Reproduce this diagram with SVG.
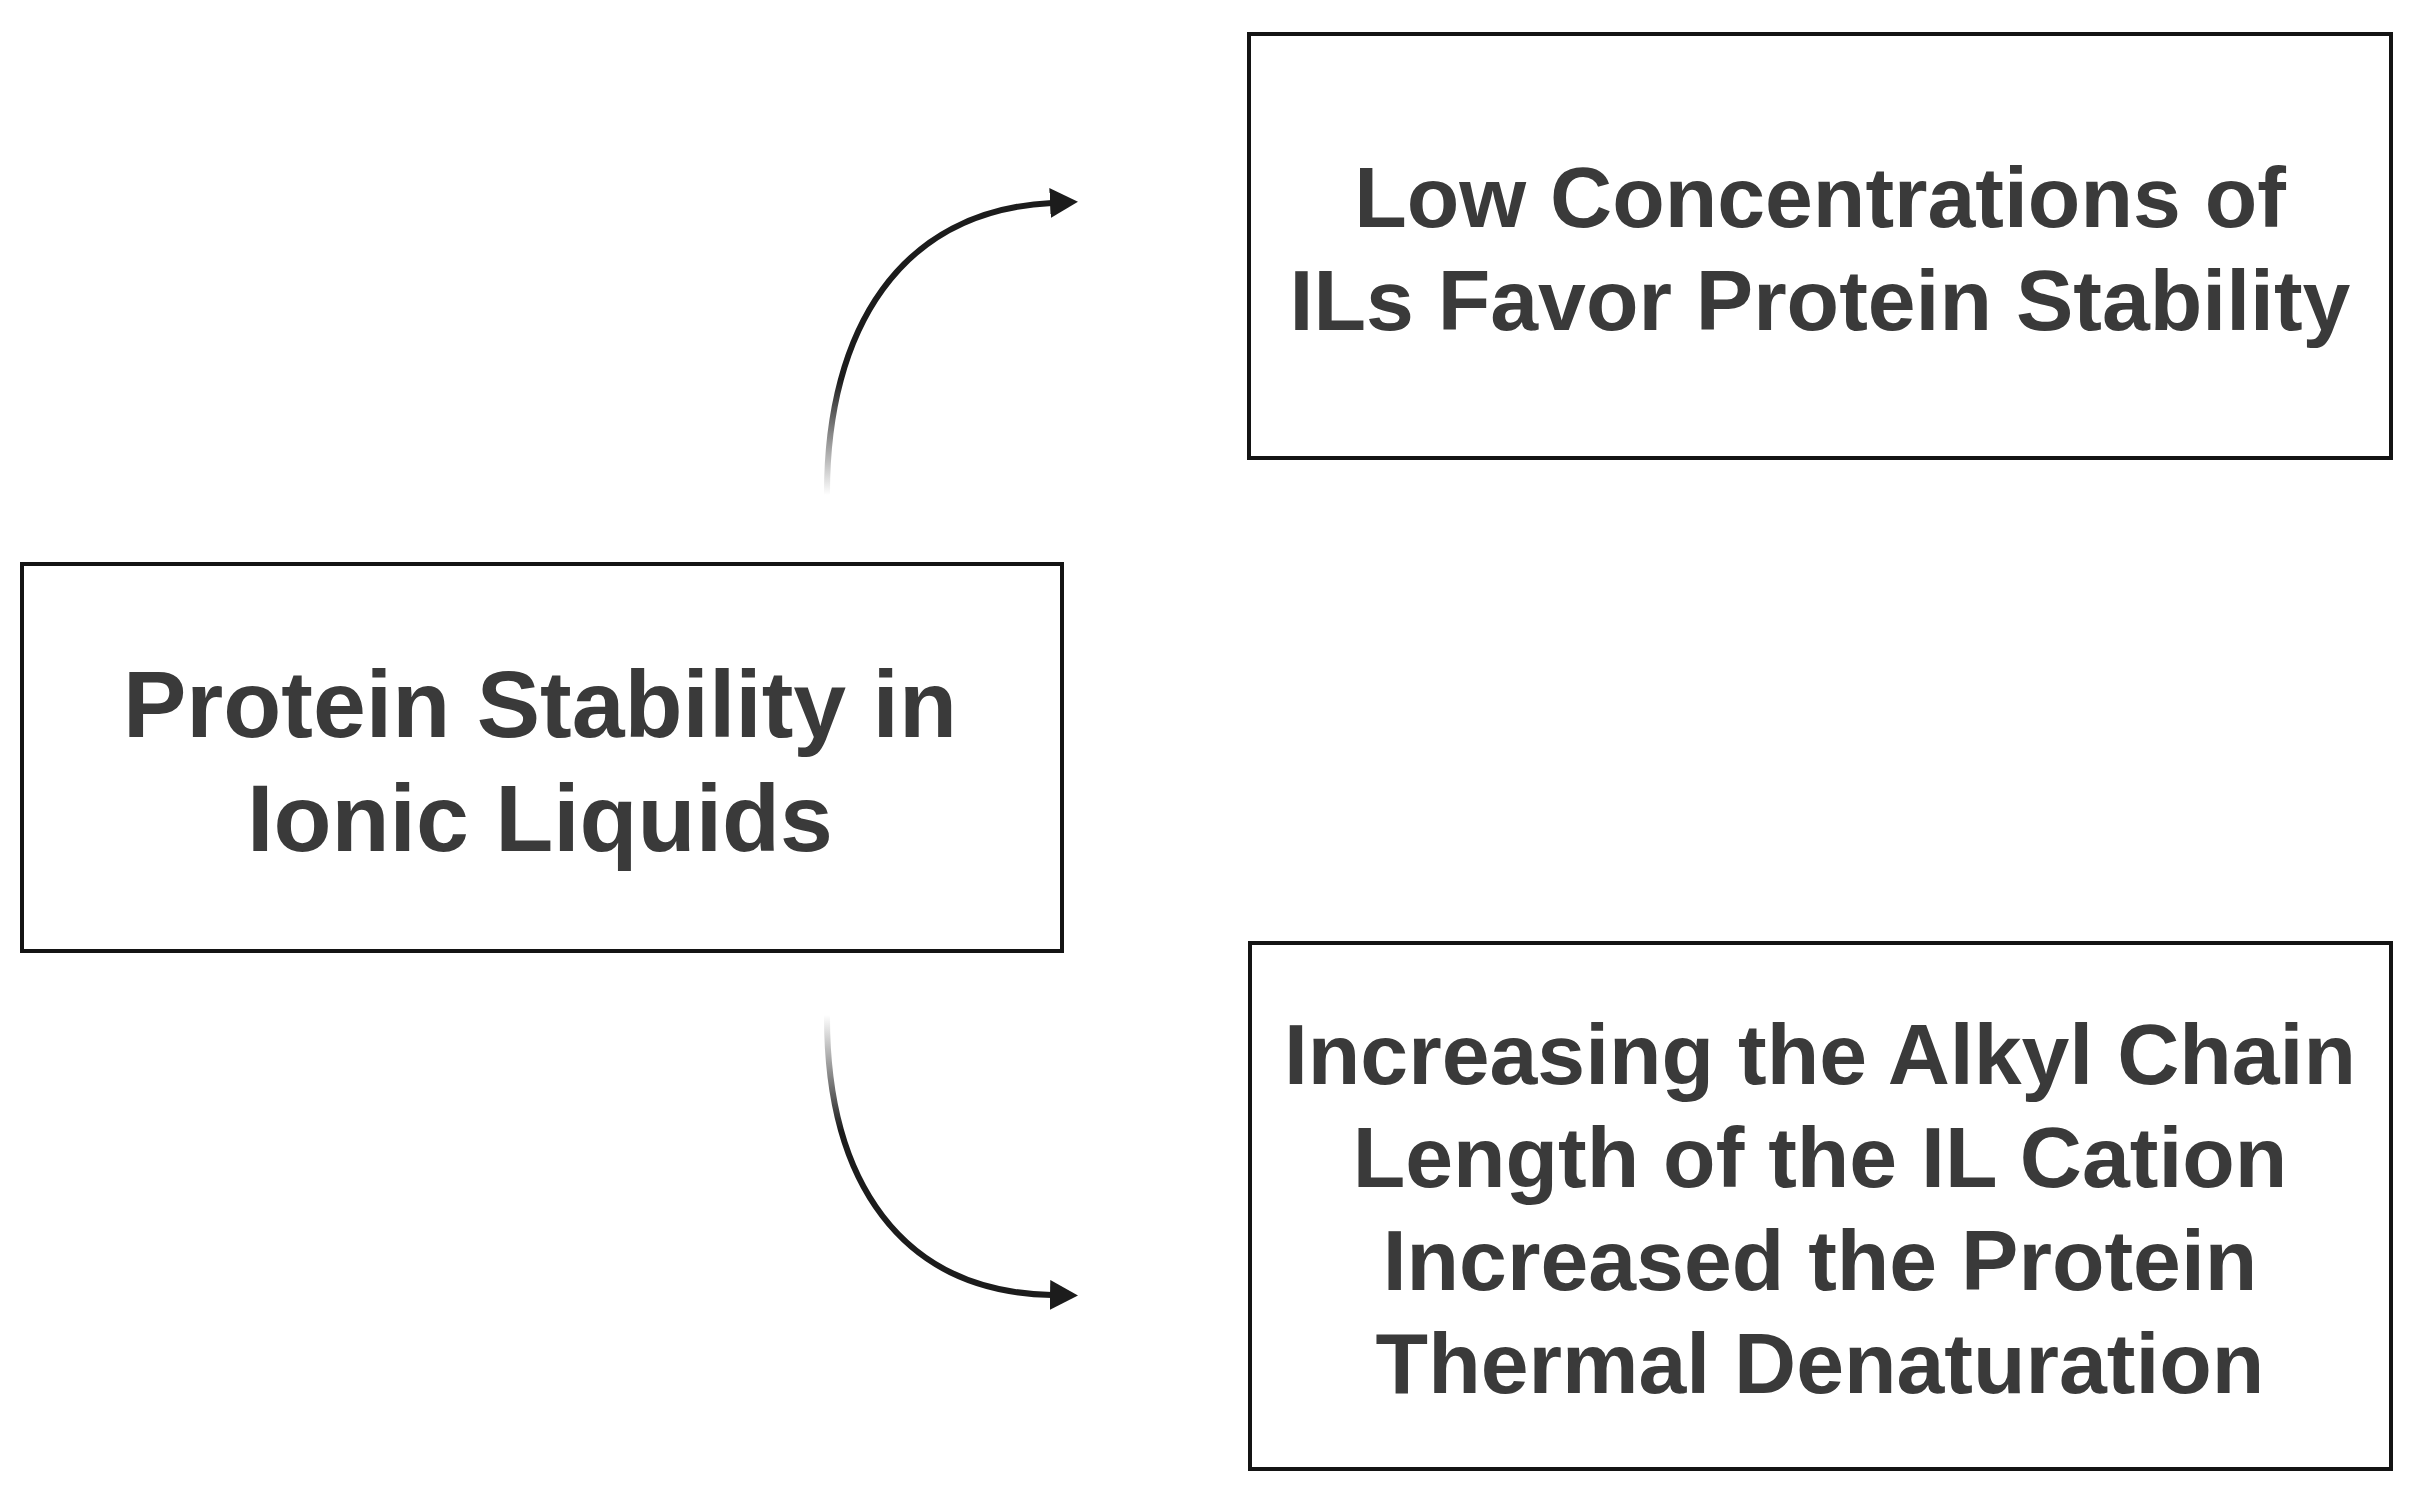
<svg xmlns="http://www.w3.org/2000/svg" width="2417" height="1495" viewBox="0 0 2417 1495">
<style>
.box{fill:#ffffff;stroke:#141414;stroke-width:4}
.lbl{font-family:"Liberation Sans",Arial,sans-serif;font-weight:bold;fill:#3a3a3a;text-anchor:middle}
.conn{fill:none;stroke-width:6;stroke-linecap:round}
</style>
<defs>
<linearGradient id="gUp" gradientUnits="userSpaceOnUse" x1="0" y1="495" x2="0" y2="380">
<stop offset="0" stop-color="#1c1c1c" stop-opacity="0"/>
<stop offset="1" stop-color="#1c1c1c" stop-opacity="1"/>
</linearGradient>
<linearGradient id="gDown" gradientUnits="userSpaceOnUse" x1="0" y1="1015" x2="0" y2="1130">
<stop offset="0" stop-color="#1c1c1c" stop-opacity="0"/>
<stop offset="1" stop-color="#1c1c1c" stop-opacity="1"/>
</linearGradient>
<marker id="arrow" markerUnits="userSpaceOnUse" markerWidth="30" markerHeight="32" refX="2" refY="15" orient="auto">
<path d="M0,0 L28,15 L0,30 z" fill="#1c1c1c"/>
</marker>
</defs>
<rect width="2417" height="1495" fill="#ffffff"/>
<g id="connectors">
<path class="conn" stroke="url(#gUp)" d="M 827 493 C 827 330, 900 210, 1052 203" marker-end="url(#arrow)"/>
<path class="conn" stroke="url(#gDown)" d="M 827 1017 C 827 1180, 900 1292, 1052 1295" marker-end="url(#arrow)"/>
</g>
<g id="node-main">
<rect class="box" x="22" y="564" width="1040" height="387"/>
<text class="lbl" font-size="95"><tspan x="540" y="737">Protein Stability in</tspan><tspan x="540" y="851">Ionic Liquids</tspan></text>
</g>
<g id="node-low">
<rect class="box" x="1249" y="34" width="1142" height="424"/>
<text class="lbl" font-size="86"><tspan x="1820" y="227">Low Concentrations of</tspan><tspan x="1820" y="330">ILs Favor Protein Stability</tspan></text>
</g>
<g id="node-alkyl">
<rect class="box" x="1250" y="943" width="1141" height="526"/>
<text class="lbl" font-size="86"><tspan x="1820" y="1084">Increasing the Alkyl Chain</tspan><tspan x="1820" y="1187">Length of the IL Cation</tspan><tspan x="1820" y="1290">Increased the Protein</tspan><tspan x="1820" y="1393">Thermal Denaturation</tspan></text>
</g>
</svg>
